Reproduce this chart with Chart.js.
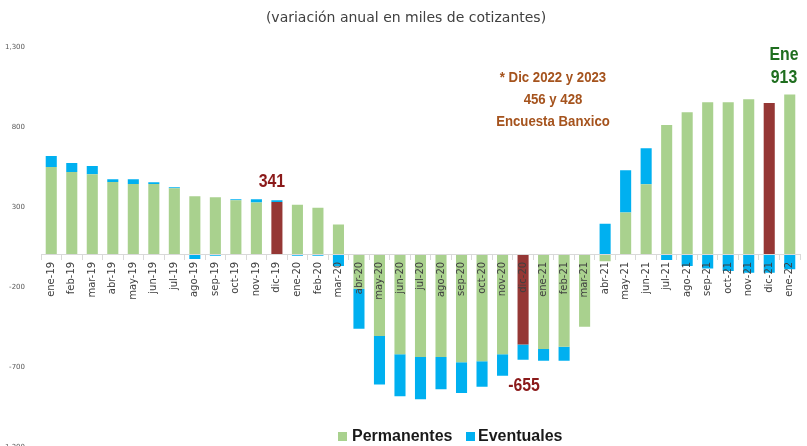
<!DOCTYPE html>
<html><head><meta charset="utf-8">
<script src="https://cdn.jsdelivr.net/npm/chart.js@4/dist/chart.umd.min.js"></script>
<style>html,body{margin:0;padding:0;background:#fff;overflow:hidden}#wrap{width:807px;height:446px;overflow:hidden;position:relative}</style>
</head><body><div id="wrap"><canvas id="c" width="807" height="459"></canvas></div>
<script>
const categories = ['ene-19','feb-19','mar-19','abr-19','may-19','jun-19','jul-19','ago-19','sep-19','oct-19','nov-19','dic-19',
  'ene-20','feb-20','mar-20','abr-20','may-20','jun-20','jul-20','ago-20','sep-20','oct-20','nov-20','dic-20',
  'ene-21','feb-21','mar-21','abr-21','may-21','jun-21','jul-21','ago-21','sep-21','oct-21','nov-21','dic-21','ene-22'];
const permanentes = [550,519,504,456,444,444,417,367,361,342,327,331,
  314,295,190,-212,-507,-621,-638,-638,-671,-665,-621,-560,
  -589,-575,-450,-40,265,442,813,892,955,955,973,950,1003];
const eventuales = [69,56,52,17,29,10,6,-25,-5,6,21,10,
  -5,-5,-70,-250,-303,-263,-264,-202,-192,-160,-135,-95,
  -73,-87,5,195,264,225,-32,-70,-85,-100,-112,-112,-90];
const seriesNames = ['Permanentes','Eventuales'];
const yTickValues = [1300,800,300,-200,-700,-1200];
const titleText = '(variación anual en miles de cotizantes)';
const noteDic19 = '341';
const noteDic20 = '-655';
const noteEne22 = ['Ene','913'];
const noteBanxico = ['* Dic 2022 y 2023','456 y 428','Encuesta Banxico'];

const GREEN = '#a9d18e', BLUE = '#00b0f0', RED = '#953735';
const permColors = categories.map(c => c.startsWith('dic') ? RED : GREEN);

function narrowText(ctx, text, x, y, sx) {
  ctx.save();
  ctx.translate(x, y);
  ctx.scale(sx, 1);
  ctx.fillText(text, 0, 0);
  ctx.restore();
}

const overlay = {
  id: 'overlay',
  afterDraw(chart) {
    const ctx = chart.ctx, x = chart.scales.x;
    ctx.save();
    ctx.textAlign = 'center';
    ctx.textBaseline = 'middle';
    ctx.fillStyle = '#404040';
    ctx.font = '14px "DejaVu Sans"';
    ctx.fillText(titleText, 406, 18);
    ctx.font = 'bold 18px "Liberation Sans"';
    ctx.fillStyle = '#8b1a1a';
    narrowText(ctx, noteDic19, x.getPixelForValue(11) - 5, 182, 0.88);
    narrowText(ctx, noteDic20, x.getPixelForValue(23) + 1, 386, 0.88);
    ctx.fillStyle = '#1f6e1f';
    narrowText(ctx, noteEne22[0], 784, 55, 0.88);
    narrowText(ctx, noteEne22[1], 784, 78, 0.88);
    ctx.fillStyle = '#a5531d';
    ctx.font = 'bold 15px "Liberation Sans"';
    noteBanxico.forEach((t, i) => narrowText(ctx, t, 553, 78 + i * 22, 0.88));
    ctx.textAlign = 'left';
    ctx.font = 'bold 16px "Liberation Sans"';
    ctx.fillStyle = GREEN; ctx.fillRect(338, 432, 9, 9);
    ctx.fillStyle = '#1a1a1a'; ctx.fillText(seriesNames[0], 352, 437);
    ctx.fillStyle = BLUE; ctx.fillRect(466, 432, 9, 9);
    ctx.fillStyle = '#1a1a1a'; ctx.fillText(seriesNames[1], 478, 437);
    ctx.restore();
  }
};

new Chart(document.getElementById('c'), {
  type: 'bar',
  data: {
    labels: categories,
    datasets: [
      { label: seriesNames[0], data: permanentes, backgroundColor: permColors, barPercentage: 0.54, categoryPercentage: 1 },
      { label: seriesNames[1], data: eventuales, backgroundColor: BLUE, barPercentage: 0.54, categoryPercentage: 1 }
    ]
  },
  options: {
    responsive: false,
    animation: false,
    devicePixelRatio: 1,
    layout: { padding: { top: 47, right: 7, bottom: 5, left: 0 } },
    plugins: { legend: { display: false }, tooltip: { enabled: false }, title: { display: false } },
    scales: {
      x: {
        stacked: true,
        position: { y: 0 },
        grid: { drawOnChartArea: false, drawTicks: true, tickLength: 5, color: '#d9d9d9', offset: true, z: 1 },
        border: { display: true, color: '#d9d9d9', z: 1 },
        ticks: { z: 1, autoSkip: false, minRotation: 90, maxRotation: 90, padding: 2, color: '#404040', font: { family: 'DejaVu Sans', size: 10 } }
      },
      y: {
        stacked: true,
        min: -1200, max: 1300,
        afterBuildTicks(scale) { scale.ticks = yTickValues.map(v => ({ value: v })); },
        afterFit(scale) { scale.width = 41; },
        grid: { display: false },
        border: { display: false },
        ticks: { padding: 8, color: '#595959', font: { family: 'DejaVu Sans', size: 7 },
          callback: v => v.toLocaleString('en-US') }
      }
    }
  },
  plugins: [overlay]
});
</script></body></html>
